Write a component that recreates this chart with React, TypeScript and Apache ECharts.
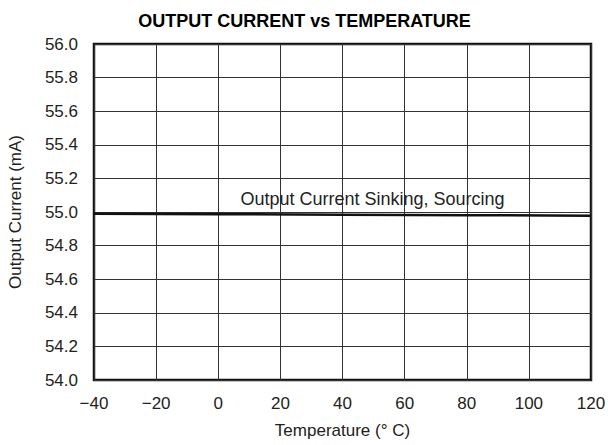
import React, { useEffect, useRef } from "react";
import * as echarts from "echarts";

const temperatures = [-40, 0, 40, 80, 120];
const currentValues = [54.99, 54.987, 54.984, 54.981, 54.978];
const seriesLabel = "Output Current Sinking, Sourcing";
const chartTitle = "OUTPUT CURRENT vs TEMPERATURE";
const xName = "Temperature (\u00B0 C)";
const yName = "Output Current (mA)";

export default function App() {
  const ref = useRef<HTMLDivElement>(null);
  useEffect(() => {
    const chart = echarts.init(ref.current!, null, { renderer: "svg" });
    const font = "Liberation Sans, Arial, sans-serif";
    chart.setOption({
      animation: false,
      backgroundColor: "#fff",
      textStyle: { fontFamily: font },
      title: {
        text: chartTitle,
        left: 299.5,
        top: 7,
        textAlign: "center",
        textStyle: { fontSize: 18, fontWeight: "bold", color: "#000", fontFamily: font },
      },
      grid: {
        left: 94,
        right: 17,
        top: 44,
        bottom: 65,
        containLabel: false,
        outerBoundsMode: "none",
        show: true,
        borderColor: "#111",
        borderWidth: 2.5,
        backgroundColor: "transparent",
      },
      xAxis: {
        type: "value",
        min: -40,
        max: 120,
        interval: 20,
        name: xName,
        nameLocation: "middle",
        nameGap: 42,
        nameTextStyle: { fontSize: 17, color: "#222", fontFamily: font },
        axisLine: { show: false, onZero: false },
        axisTick: { show: false },
        axisLabel: {
          fontSize: 17,
          color: "#222",
          margin: 15,
          formatter: (v: number) => String(v).replace("-", "\u2212"),
        },
        splitLine: { show: true, lineStyle: { color: "#333", width: 1 } },
      },
      yAxis: {
        type: "value",
        min: 54,
        max: 56,
        interval: 0.2,
        name: yName,
        nameLocation: "middle",
        nameGap: 70,
        nameTextStyle: { fontSize: 17, color: "#222", fontFamily: font },
        axisLine: { show: false, onZero: false },
        axisTick: { show: false },
        axisLabel: {
          fontSize: 17,
          color: "#222",
          margin: 16,
          formatter: (v: number) => v.toFixed(1),
        },
        splitLine: { show: true, lineStyle: { color: "#333", width: 1 } },
      },
      graphic: [
        {
          type: "text",
          x: 372.5,
          y: 199,
          style: {
            text: seriesLabel,
            fontSize: 18,
            fill: "#222",
            fontFamily: font,
            align: "center",
            verticalAlign: "middle",
          },
          z: 10,
        },
      ],
      series: [
        {
          type: "line",
          data: temperatures.map((t, i) => [t, currentValues[i]]),
          showSymbol: false,
          lineStyle: { color: "#111", width: 2.5 },
          z: 5,
        },
      ],
    });
    return () => chart.dispose();
  }, []);
  return (
    <div
      ref={ref}
      style={{ position: "fixed", left: 0, top: 0, width: 608, height: 445 }}
    />
  );
}
